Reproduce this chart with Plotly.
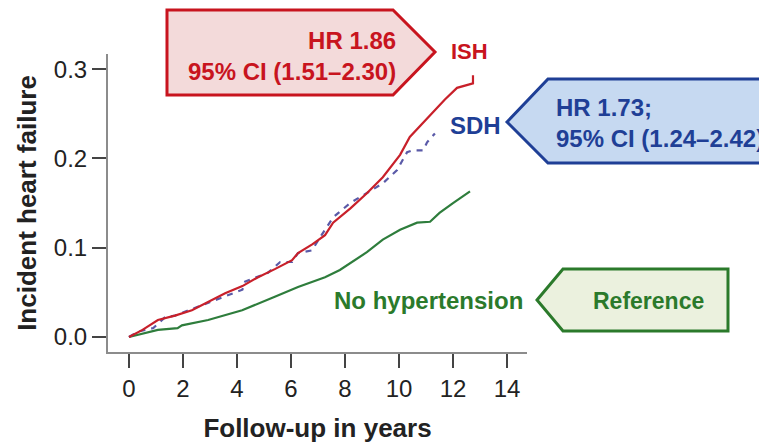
import plotly.graph_objects as go

# ---- data ----
years_ish = [0, 0.5, 1.07, 1.7, 2.33, 3.0, 3.56, 4.2, 4.78, 5.4, 6.04, 6.26, 6.8, 7.26,
             7.56, 8.2, 8.81, 9.4, 10.04, 10.4, 10.8, 11.26, 11.7, 12.15, 12.5, 12.74, 12.74]
hf_ish = [0, 0.008, 0.019, 0.024, 0.030, 0.040, 0.049, 0.057, 0.067, 0.076, 0.086, 0.094,
          0.104, 0.114, 0.128, 0.144, 0.161, 0.179, 0.204, 0.224, 0.237, 0.252, 0.266,
          0.279, 0.282, 0.284, 0.293]

years_sdh = [0, 0.33, 0.9, 1.33, 1.7, 2.56, 3.2, 4.2, 4.3, 5.15, 5.6, 6.04, 6.26, 6.78,
             7.0, 7.56, 8.19, 8.81, 9.4, 9.93, 10.3, 10.5, 10.9, 11.04, 11.33]
hf_sdh = [0, 0.006, 0.010, 0.022, 0.024, 0.034, 0.041, 0.053, 0.062, 0.072, 0.084, 0.084,
          0.094, 0.097, 0.108, 0.134, 0.150, 0.161, 0.172, 0.187, 0.207, 0.209, 0.209,
          0.218, 0.228]

years_none = [0, 0.59, 1.07, 1.8, 1.96, 2.93, 4.19, 5.4, 6.26, 7.26, 7.81, 8.81, 9.4,
              10.04, 10.67, 11.15, 11.5, 12.0, 12.63]
hf_none = [0, 0.0045, 0.008, 0.010, 0.013, 0.019, 0.030, 0.045, 0.056, 0.067, 0.075,
           0.095, 0.109, 0.120, 0.128, 0.129, 0.139, 0.150, 0.163]

x_ticks = [0, 2, 4, 6, 8, 10, 12, 14]
y_ticks = [0.0, 0.1, 0.2, 0.3]
y_tick_labels = ["0.0", "0.1", "0.2", "0.3"]

series_labels = ["ISH", "SDH", "No hypertension"]
box_texts = ["HR 1.86<br>95% CI (1.51\u20132.30)",
             "HR 1.73;<br>95% CI (1.24\u20132.42)",
             "Reference"]

# ---- layout geometry (page pixels; the page body has an 8px margin) ----
OFF = 8
PAGE_W, PAGE_H = 767, 445
W, H = PAGE_W - OFF, PAGE_H - OFF
L, R, T, B = 108, 527, 54, 352          # plot area in page pixels
FONT = "Arial, Liberation Sans, sans-serif"

RED, RED_FILL = "#c8141e", "#f3dada"
BLUE, BLUE_FILL = "#1f3f96", "#c6d9f1"
GREEN, GREEN_FILL = "#2b7a2b", "#ebf1de"
LINE_RED, LINE_BLUE, LINE_GREEN = "#c8202a", "#5a5aa8", "#2e7d3c"


def px(x):
    return (x - L) / (R - L)


def py(y):
    return (B - y) / (B - T)


def path(points):
    return "M " + " L ".join(f"{px(a):.4f},{py(b):.4f}" for a, b in points) + " Z"


fig = go.Figure()
fig.add_trace(go.Scatter(x=years_none, y=hf_none, mode="lines",
                         line=dict(color=LINE_GREEN, width=2.2), name=series_labels[2]))
fig.add_trace(go.Scatter(x=years_sdh, y=hf_sdh, mode="lines",
                         line=dict(color=LINE_BLUE, width=2.2, dash="6px,6px"), name=series_labels[1]))
fig.add_trace(go.Scatter(x=years_ish, y=hf_ish, mode="lines",
                         line=dict(color=LINE_RED, width=2.2), name=series_labels[0]))

shapes = [
    dict(type="path", xref="paper", yref="paper",
         path=path([(167, 10), (393, 10), (435, 52), (393, 95), (167, 95)]),
         fillcolor=RED_FILL, line=dict(color=RED, width=3)),
    dict(type="path", xref="paper", yref="paper",
         path=path([(507, 122), (548, 79), (790, 79), (790, 163), (548, 163)]),
         fillcolor=BLUE_FILL, line=dict(color=BLUE, width=3)),
    dict(type="path", xref="paper", yref="paper",
         path=path([(537, 300), (563, 269), (728, 269), (728, 331), (563, 331)]),
         fillcolor=GREEN_FILL, line=dict(color=GREEN, width=3)),
]

annotations = [
    dict(text=box_texts[0], x=px(398), y=py(56), xanchor="right", yanchor="middle",
         align="right", font=dict(color=RED, size=24, family=FONT, weight="bold")),
    dict(text=box_texts[1], x=px(554), y=py(123), xanchor="left", yanchor="middle",
         align="left", font=dict(color=BLUE, size=24, family=FONT, weight="bold")),
    dict(text=box_texts[2], x=px(648), y=py(301), xanchor="center", yanchor="middle",
         font=dict(color=GREEN, size=23, family=FONT, weight="bold")),
    dict(text=series_labels[0], x=px(449), y=py(52), xanchor="left", yanchor="middle",
         font=dict(color=RED, size=22, family=FONT, weight="bold")),
    dict(text=series_labels[1], x=px(448), y=py(125), xanchor="left", yanchor="middle",
         font=dict(color=BLUE, size=24, family=FONT, weight="bold")),
    dict(text=series_labels[2], x=px(525), y=py(300), xanchor="right", yanchor="middle",
         font=dict(color=GREEN, size=24, family=FONT, weight="bold")),
]
for a in annotations:
    a.update(xref="paper", yref="paper", showarrow=False)

fig.update_layout(
    width=W, height=H,
    margin=dict(l=L - OFF, r=PAGE_W - R, t=T - OFF, b=PAGE_H - B, pad=0, autoexpand=False),
    paper_bgcolor="white", plot_bgcolor="white",
    showlegend=False,
    shapes=shapes, annotations=annotations,
    font=dict(family=FONT, color="#222222"),
)
fig.update_xaxes(
    range=[(L - 129) / 27, (R - 129) / 27], automargin=False,
    tickvals=x_ticks, ticks="outside", ticklen=14, tickwidth=2, tickcolor="#444444",
    showline=True, linecolor="#8c8c8c", linewidth=2, showgrid=False, zeroline=False,
    tickfont=dict(size=24, family=FONT, color="#222222"),
    title=dict(text="Follow-up in years", standoff=18,
               font=dict(size=26, family=FONT, color="#222222", weight="bold")),
)
fig.update_yaxes(
    range=[(337 - B) / 893, (337 - T) / 893], automargin=False,
    tickvals=y_ticks, ticktext=y_tick_labels, ticks="outside", ticklen=14, tickwidth=2,
    tickcolor="#444444",
    showline=True, linecolor="#8c8c8c", linewidth=2, showgrid=False, zeroline=False,
    tickfont=dict(size=24, family=FONT, color="#222222"),
    title=dict(text="Incident heart failure", standoff=10,
               font=dict(size=26, family=FONT, color="#222222", weight="bold")),
)

fig.write_html("out.html")
